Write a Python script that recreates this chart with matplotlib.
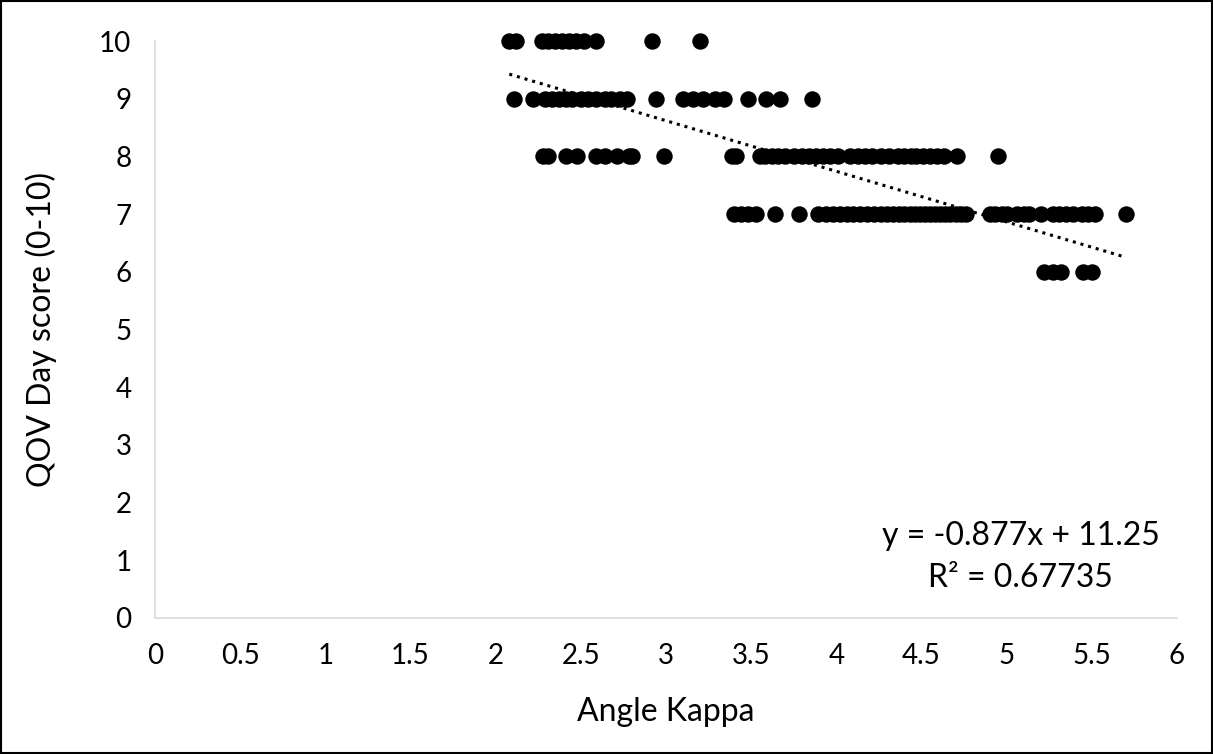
import numpy as np
import matplotlib.pyplot as plt
from matplotlib.patches import Rectangle

plt.rcParams['font.family'] = ['Lato', 'DejaVu Sans']

# Angle Kappa values, grouped by QOV day score
kappa_10 = [2.08, 2.12, 2.27, 2.31, 2.35, 2.39, 2.43, 2.47, 2.52, 2.59, 2.92, 3.20]
kappa_9 = [2.11, 2.22, 2.29, 2.33, 2.37, 2.41, 2.45, 2.50, 2.54, 2.59, 2.64, 2.68,
           2.73, 2.77, 2.94, 3.10, 3.16, 3.22, 3.29, 3.34, 3.48, 3.59, 3.67, 3.86]
kappa_8 = [2.28, 2.31, 2.41, 2.48, 2.59, 2.64, 2.71, 2.78, 2.80, 2.99,
           3.39, 3.41, 3.55, 3.58, 3.62, 3.66, 3.70, 3.75, 3.80, 3.84, 3.88, 3.92,
           3.96, 4.01, 4.08, 4.13, 4.17, 4.21, 4.26, 4.31, 4.36, 4.40, 4.44, 4.47,
           4.51, 4.55, 4.59, 4.63, 4.71, 4.95]
kappa_7 = [3.40, 3.44, 3.48, 3.53, 3.64, 3.78, 3.89, 3.94, 3.98, 4.02, 4.06, 4.10,
           4.14, 4.18, 4.22, 4.26, 4.30, 4.33, 4.37, 4.40, 4.43, 4.46, 4.49, 4.52,
           4.55, 4.58, 4.61, 4.64, 4.67, 4.70, 4.73, 4.76, 4.90, 4.93, 4.97, 5.00,
           5.06, 5.10, 5.13, 5.20, 5.27, 5.31, 5.35, 5.39, 5.44, 5.48, 5.52, 5.70]
kappa_6 = [5.22, 5.27, 5.32, 5.45, 5.50]

groups = {10: kappa_10, 9: kappa_9, 8: kappa_8, 7: kappa_7, 6: kappa_6}

# trendline shown on the chart
slope, intercept = -0.877, 11.25

fig = plt.figure(figsize=(12.13, 7.54), dpi=100)
ax = fig.add_axes([0.1278, 0.1804, 0.8425, 0.7652])

xs, ys = [], []
for score, ks in groups.items():
    xs += ks
    ys += [score] * len(ks)
ax.scatter(xs, ys, s=140, color='black', zorder=3, linewidths=0, clip_on=False)

tx = np.array([min(xs), max(xs)])
ax.plot(tx, slope * tx + intercept, color='black', linestyle=(0, (1, 1.6)),
        linewidth=2.2, zorder=4)

ax.set_xlim(0, 6)
ax.set_ylim(0, 10)
ax.set_xticks(np.arange(0, 6.01, 0.5))
ax.set_xticklabels(['0', '0.5', '1', '1.5', '2', '2.5', '3', '3.5', '4', '4.5', '5', '5.5', '6'])
ax.set_yticks(range(0, 11))
ax.tick_params(length=0, labelsize=20)
ax.tick_params(axis='y', pad=17)
ax.tick_params(axis='x', pad=18)
for s in ['top', 'right']:
    ax.spines[s].set_visible(False)
for s in ['left', 'bottom']:
    ax.spines[s].set_color('#d9d9d9')
    ax.spines[s].set_linewidth(1.2)

ax.set_xlabel('Angle Kappa', fontsize=23, labelpad=20)
ax.set_ylabel('QOV Day score (0-10)', fontsize=23, labelpad=30)

ax.text(0.983, 0.105, 'y = -0.877x + 11.25\nR² = 0.67735', transform=ax.transAxes,
        ha='right', va='center', fontsize=23, linespacing=1.5, multialignment='center')

fig.patches.append(Rectangle((0.001, 0.001), 0.998, 0.998, transform=fig.transFigure,
                             fill=False, edgecolor='black', linewidth=1.5))

fig.savefig('out.png', dpi=100)
